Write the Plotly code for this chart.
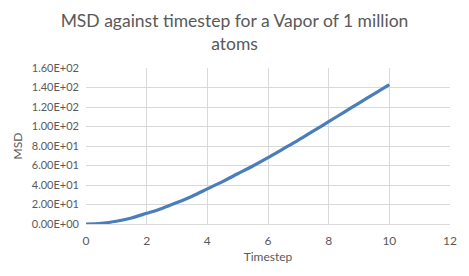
import plotly.graph_objects as go

timestep = [0, 0.5, 1, 1.5, 2, 2.5, 3, 3.5, 4, 4.5, 5, 5.5, 6, 6.5, 7, 7.5, 8, 8.5, 9, 9.5, 10]
msd = [0, 0.7, 2.8, 6.2, 11, 16, 22, 28.5, 36, 43.5, 51.5, 59.5, 68, 77, 86, 95.5, 105, 114.5, 124, 133.5, 143]
x_ticks = [0, 2, 4, 6, 8, 10, 12]
y_ticks = [0, 20, 40, 60, 80, 100, 120, 140, 160]
y_ticktext = [f"{v:.2E}" for v in y_ticks]

grid = "#D9D9D9"
txt = "#595959"
font = "Lato, 'Open Sans', sans-serif"

fig = go.Figure(go.Scatter(x=timestep, y=msd, mode="lines",
                           line=dict(color="#4A7EBB", width=3.2, shape="spline")))
fig.update_layout(
    width=469, height=276,
    margin=dict(l=86, r=16, t=68, b=52),
    paper_bgcolor="white", plot_bgcolor="white",
    showlegend=False,
    font=dict(family=font, color=txt, size=11),
    title=dict(text="MSD against timestep for a Vapor of 1 million<br>atoms",
               x=0.5, xanchor="center", yref="container", y=1 - 27 / 276, yanchor="middle",
               font=dict(size=17.5, color=txt, family=font)),
)
fig.update_xaxes(range=[0, 12], tickvals=x_ticks, showgrid=True, gridcolor=grid, gridwidth=1,
                 zeroline=False, showline=True, linecolor=grid, linewidth=1,
                 ticks="", tickfont=dict(size=12, color=txt), ticklabelstandoff=6,
                 title=dict(text="Timestep", font=dict(size=12, color=txt), standoff=5))
fig.update_yaxes(range=[0, 160], tickvals=y_ticks, ticktext=y_ticktext, showgrid=True,
                 gridcolor=grid, gridwidth=1, zeroline=False, showline=False,
                 ticks="", tickfont=dict(size=11, color=txt), ticklabelstandoff=6,
                 title=dict(text="MSD", font=dict(size=12, color=txt), standoff=6))
fig.write_html("out.html")
